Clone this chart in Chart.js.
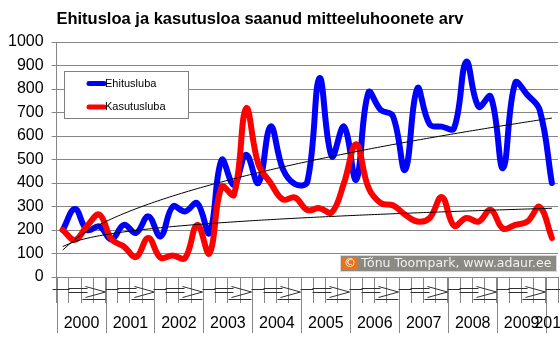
<!DOCTYPE html>
<html>
<head>
<meta charset="utf-8">
<script src="https://cdn.jsdelivr.net/npm/chart.js@4.4.1/dist/chart.umd.min.js"></script>
<style>
  html, body { margin: 0; padding: 0; background: #fff; }
  #wrap { width: 560px; height: 342px; }
</style>
</head>
<body>
<div id="wrap"><canvas id="c" width="560" height="342"></canvas></div>
<script>
// Quarterly counts of non-residential buildings receiving permits
const years = ['2000', '2001', '2002', '2003', '2004', '2005', '2006', '2007', '2008', '2009', '2010'];
const quarters = ['I', 'II', 'III', 'IV'];
const ehitusluba = [200, 289, 200, 215, 160, 222, 188, 258, 173, 300, 279, 314,
                    187, 498, 392, 520, 400, 640, 460, 395, 405, 846, 513, 640,
                    414, 785, 711, 685, 456, 803, 650, 640, 633, 916, 725, 768,
                    463, 826, 775, 711, 400];
const kasutusluba = [200, 158, 218, 265, 160, 130, 85, 166, 82, 92, 80, 222,
                     100, 385, 350, 718, 480, 400, 330, 338, 285, 293, 275, 400,
                     565, 380, 315, 305, 265, 236, 251, 340, 218, 251, 236, 286,
                     206, 222, 236, 298, 166];
const yTicks = [0, 100, 200, 300, 400, 500, 600, 700, 800, 900, 1000];
const seriesNames = ['Ehitusluba', 'Kasutusluba'];
const titleText = 'Ehitusloa ja kasutusloa saanud mitteeluhoonete arv';
const creditText = 'Tõnu Toompark, www.adaur.ee';

const categories = [];
years.forEach(y => quarters.forEach(q => categories.push(y + ' ' + q)));
categories.length = ehitusluba.length;

// Least-squares power trend y = a * x^b over the quarter index
function powerTrend(values) {
  let n = 0, sx = 0, sy = 0, sxx = 0, sxy = 0;
  values.forEach((v, i) => {
    if (v > 0) {
      const lx = Math.log(i + 1), ly = Math.log(v);
      n++; sx += lx; sy += ly; sxx += lx * lx; sxy += lx * ly;
    }
  });
  const b = (n * sxy - sx * sy) / (n * sxx - sx * sx);
  const a = Math.exp((sy - b * sx) / n);
  return values.map((_, i) => a * Math.pow(i + 1, b));
}

const FONT = '"Liberation Sans", Arial, sans-serif';
const GRID = '#868686';
const BLUE = '#0000ff';
const RED = '#ff0000';

const decorations = {
  id: 'decorations',
  afterDraw(chart) {
    const ctx = chart.ctx;
    const xs = chart.scales.x;
    const area = chart.chartArea;
    const w = xs.getPixelForValue(1) - xs.getPixelForValue(0);
    ctx.save();

    // title
    ctx.font = 'bold 16.5px ' + FONT;
    ctx.fillStyle = '#000';
    ctx.textAlign = 'center';
    ctx.textBaseline = 'middle';
    ctx.fillText(titleText, 260, 19);

    // year groups under the quarter ticks
    years.forEach((yr, k) => {
      const i0 = k * 4;
      if (i0 >= categories.length) return;
      const i1 = Math.min(i0 + 4, categories.length);
      const x0 = Math.round(xs.getPixelForValue(i0) - w / 2) + 0.5;
      const x1 = xs.getPixelForValue(i1 - 1) + w / 2;

      ctx.strokeStyle = GRID;
      ctx.lineWidth = 1;
      ctx.beginPath();
      ctx.moveTo(x0, area.bottom);
      ctx.lineTo(x0, area.bottom + 56);
      ctx.stroke();

      ctx.strokeStyle = '#303030';
      ctx.beginPath();
      const yl = 289.5;
      if (i1 - i0 === 4) {
        ctx.moveTo(x0 - (k === 0 ? 5 : 1), yl);
        ctx.lineTo(x0 + 12, yl);
        ctx.moveTo(x0 + 11, 288.5);
        ctx.lineTo(x0 + 30, 288.5);
        ctx.moveTo(x0 + 11, 292.5);
        ctx.lineTo(x0 + 30, 292.5);
        ctx.moveTo(x0 + 28, 286.5);
        ctx.lineTo(x0 + 48, 292);
        ctx.lineTo(x0 + 28, 297.5);
        ctx.moveTo(x0 + 25, 299.5);
        ctx.lineTo(x0 + 48, 299.5);
      } else {
        ctx.moveTo(x0 - 1, yl);
        ctx.lineTo(x1 + 4, yl);
      }
      ctx.stroke();

      ctx.fillStyle = '#000';
      ctx.font = '16px ' + FONT;
      ctx.textAlign = 'center';
      ctx.textBaseline = 'middle';
      ctx.fillText(yr, (x0 + x1) / 2, 324);
    });

    // legend
    const lx = 64.5, ly = 71.5, lw = 124, lh = 47;
    ctx.fillStyle = '#fff';
    ctx.fillRect(lx, ly, lw, lh);
    ctx.strokeStyle = '#808080';
    ctx.lineWidth = 1;
    ctx.strokeRect(lx, ly, lw, lh);
    [BLUE, RED].forEach((col, j) => {
      const yy = 83.5 + j * 23.5;
      ctx.strokeStyle = col;
      ctx.lineWidth = 5;
      ctx.lineCap = 'round';
      ctx.beginPath();
      ctx.moveTo(89, yy);
      ctx.lineTo(104, yy);
      ctx.stroke();
      ctx.fillStyle = '#000';
      ctx.font = '11px ' + FONT;
      ctx.textAlign = 'left';
      ctx.textBaseline = 'middle';
      ctx.fillText(seriesNames[j], 105, yy);
    });

    // credit badge
    ctx.lineCap = 'butt';
    ctx.fillStyle = '#d8d8d8';
    ctx.fillRect(340, 255, 217, 17);
    ctx.fillStyle = '#8a8a82';
    ctx.fillRect(341, 256, 215, 15);
    ctx.fillStyle = '#e8731f';
    ctx.fillRect(342, 257, 16, 13);
    ctx.fillStyle = '#ffffff';
    ctx.font = '12px "DejaVu Sans", sans-serif';
    ctx.textAlign = 'center';
    ctx.textBaseline = 'middle';
    ctx.fillText('©', 350, 264);
    ctx.fillStyle = '#f0f0f0';
    ctx.font = '12.5px "DejaVu Sans", sans-serif';
    ctx.textAlign = 'left';
    ctx.fillText(creditText, 361, 264);

    ctx.restore();
  }
};

new Chart(document.getElementById('c'), {
  type: 'line',
  data: {
    labels: categories,
    datasets: [
      {
        label: seriesNames[0] + ' trend',
        data: powerTrend(ehitusluba),
        borderColor: '#000', borderWidth: 1, pointRadius: 0, tension: 0.4, order: 0
      },
      {
        label: seriesNames[1] + ' trend',
        data: powerTrend(kasutusluba),
        borderColor: '#000', borderWidth: 1, pointRadius: 0, tension: 0.4, order: 0
      },
      {
        label: seriesNames[1],
        data: kasutusluba,
        borderColor: RED, borderWidth: 6, pointRadius: 0, tension: 0.4,
        borderCapStyle: 'round', borderJoinStyle: 'round', order: 1
      },
      {
        label: seriesNames[0],
        data: ehitusluba,
        borderColor: BLUE, borderWidth: 6, pointRadius: 0, tension: 0.4,
        borderCapStyle: 'round', borderJoinStyle: 'round', order: 2
      }
    ]
  },
  options: {
    responsive: false,
    animation: false,
    devicePixelRatio: 1,
    layout: { padding: { top: 42, left: 0, right: 2, bottom: 39 } },
    plugins: { legend: { display: false }, tooltip: { enabled: false }, title: { display: false } },
    scales: {
      x: {
        type: 'category',
        offset: true,
        ticks: { display: false },
        grid: { offset: true, drawOnChartArea: false, tickLength: 26, color: GRID },
        border: { color: GRID }
      },
      y: {
        min: 0, max: 1000,
        afterBuildTicks: s => { s.ticks = yTicks.map(v => ({ value: v })); },
        ticks: { font: { family: FONT, size: 16 }, color: '#000', padding: 8, callback: v => String(v) },
        grid: { color: GRID, tickLength: 5 },
        border: { color: GRID }
      }
    }
  },
  plugins: [decorations]
});
</script>
</body>
</html>
